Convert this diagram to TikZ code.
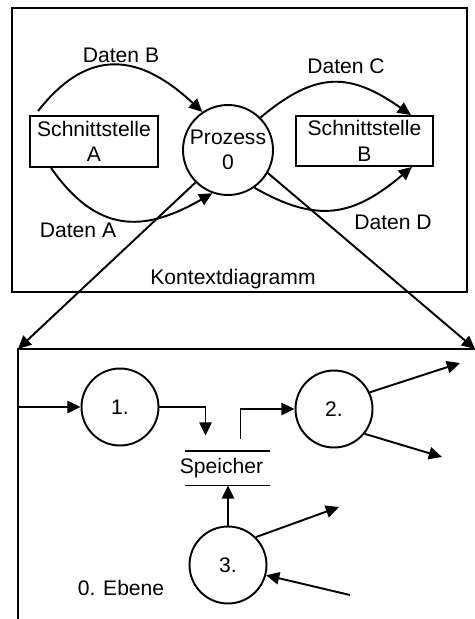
\documentclass[tikz,border=0pt]{standalone}
\usepackage{fontspec}
\setmainfont{Liberation Sans}
\usepackage{tikz}
\usetikzlibrary{positioning,arrows.meta,calc}

\begin{document}
\begin{tikzpicture}[x=0.02cm, y=-0.02cm, line width=1.1pt,
    >={Triangle[length=7.5pt,width=7pt]},
    every node/.style={font=\fontsize{12}{14.5}\selectfont},
    proc/.style={draw, circle, inner sep=0pt, minimum size=1.54cm, align=center},
    ext/.style={draw, rectangle, inner sep=0pt, align=center}]
    \useasboundingbox (0,0) rectangle (475,619);

    % Kontextdiagramm
    \draw (12,8) rectangle (467,292);
    \node[ext, minimum width=2.56cm, minimum height=1.02cm] (schnA) at (94,141.5) {Schnittstelle\\A};
    \node[ext, minimum width=2.74cm, minimum height=1.0cm] (schnB) at (364.5,141) {Schnittstelle\\B};
    \node[proc, minimum size=1.8cm] (prozess) at (228,150) {Prozess\\0};

    \draw[->] ($(schnA.north west)+(9,-4)$) to[out=52, in=137, looseness=1.3] (prozess.124);
    \draw[->] ($(schnA.south west)+(22,0)$) to[out=-55, in=-150, looseness=1.25] (prozess.-110);
    \draw[->] (prozess.45) to[out=40, in=145, looseness=1.25] ($(schnB.north east)+(-23,0)$);
    \draw[->] (prozess.-55) to[out=-30, in=-140, looseness=1.2] ($(schnB.south east)+(-22,0)$);

    \node (datenB) at (121,55) {Daten B};
    \node (datenC) at (346,66) {Daten C};
    \node (datenA) at (78,230) {Daten A};
    \node (datenD) at (393,222) {Daten D};
    \node (kontext) at (233,279) {Kontextdiagramm};

    % 0. Ebene
    \coordinate (tl) at (18,349);
    \coordinate (tr) at (475,349);
    \coordinate (bl) at (18,619);
    \draw (tr) -- (tl) -- (bl);
    \draw[->] (prozess.-135) -- (tl);
    \draw[->] (prozess.-30) -- (tr);

    \node[proc] (p1) at (120,407) {1.};
    \node[proc] (p2) at (334,409) {2.};
    \node[proc] (p3) at (228,565) {3.};
    \node[inner sep=0pt, minimum width=1.66cm, minimum height=0.66cm] (speicher) at (221.5,468) {Speicher};
    \draw ([xshift=0.12cm]speicher.north west) -- ([xshift=0.12cm]speicher.north east);
    \draw ([xshift=0.12cm]speicher.south west) -- ([xshift=0.12cm]speicher.south east);

    \draw[->] (tl |- p1.west) -- (p1.west);
    \draw[->] (p1.east) -| ($(speicher.north)+(-16,-15)$);
    \draw[->] ($(speicher.north)+(19,-12)$) |- (p2.west);
    \draw[->] (p3.north) -- (p3 |- speicher.south);

    \coordinate (out1) at (460,363);
    \coordinate (out2) at (442,457);
    \coordinate (out3) at (339,507);
    \coordinate (in3) at (350,595);
    \draw[->] (p2.25) -- (out1);
    \draw[->] (p2.-39) -- (out2);
    \draw[->] (p3.45) -- (out3);
    \draw[->] (in3) -- (p3.-15);

    \node (ebene) at (121,588) {0. Ebene};
\end{tikzpicture}
\end{document}
